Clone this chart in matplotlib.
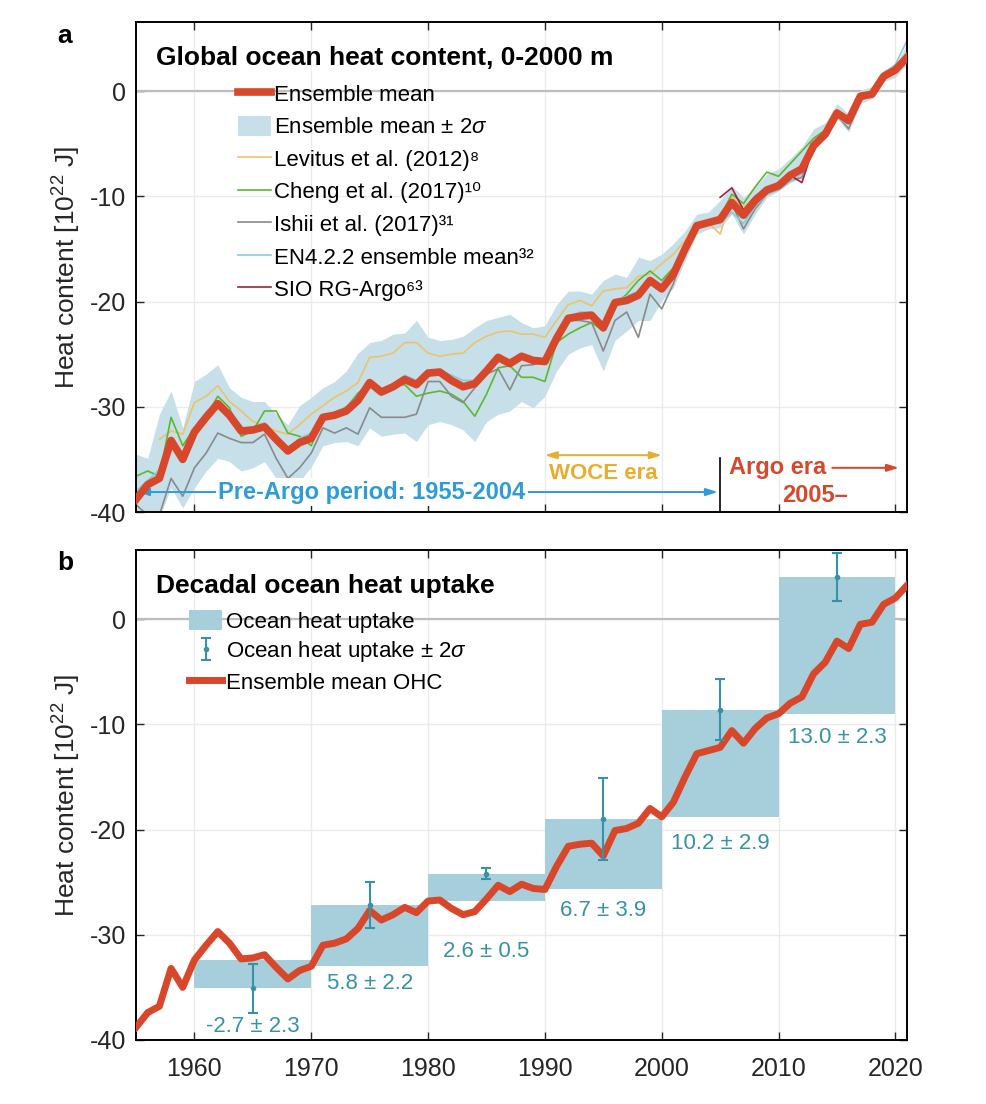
import matplotlib
matplotlib.use('Agg')
import matplotlib.pyplot as plt
import numpy as np

plt.rcParams['font.family'] = ['Liberation Sans', 'DejaVu Sans']
plt.rcParams['axes.unicode_minus'] = False
plt.rcParams['mathtext.fontset'] = 'custom'
plt.rcParams['mathtext.rm'] = 'Liberation Sans'
plt.rcParams['mathtext.it'] = 'Liberation Sans:italic'
plt.rcParams['mathtext.bf'] = 'Liberation Sans:bold'

# DATA (10^22 J)
years = np.arange(1955, 2022)
ohc_mean = [-38.8, -37.4, -36.8, -33.2, -35.0, -32.4, -31.0, -29.7, -30.8, -32.3,
            -32.2, -31.9, -33.1, -34.2, -33.4, -33.0, -31.0, -30.8, -30.4, -29.4,
            -27.7, -28.6, -28.1, -27.4, -27.9, -26.8, -26.7, -27.5, -28.1, -27.8,
            -26.6, -25.3, -25.9, -25.2, -25.6, -25.7, -23.5, -21.6, -21.4, -21.3,
            -22.5, -20.1, -19.9, -19.4, -18.0, -18.8, -17.4, -15.0, -12.8, -12.5,
            -12.2, -10.6, -11.8, -10.4, -9.4, -9.0, -8.0, -7.4, -5.2, -4.1,
            -2.1, -2.8, -0.5, -0.3, 1.4, 2.0, 3.2]
band_hi = [-34.5, -34.9, -30.7, -28.5, -32.0, -27.6, -26.9, -26.0, -28.2, -29.1,
           -29.5, -29.5, -30.7, -31.7, -29.9, -29.1, -28.2, -27.6, -26.6, -24.9,
           -23.9, -23.7, -23.1, -23.0, -21.8, -23.4, -23.7, -23.6, -23.3, -22.5,
           -21.8, -21.5, -21.2, -22.0, -22.5, -22.3, -20.3, -19.0, -19.0, -19.3,
           -18.0, -17.4, -17.7, -15.8, -16.1, -15.5, -14.5, -13.3, -11.7, -11.5,
           -10.4, -9.0, -10.1, -9.1, -7.9, -7.4, -6.4, -5.3, -3.6, -3.0,
           -1.2, -2.2, 0.1, 0.4, 2.0, 2.4, 4.5]
band_lo = [-41.5, -42.0, -40.5, -37.7, -39.6, -37.7, -36.1, -34.9, -35.2, -36.1,
           -35.8, -35.2, -36.8, -38.0, -37.1, -35.7, -33.7, -33.4, -33.3, -33.7,
           -32.0, -32.8, -32.6, -32.5, -33.3, -31.7, -31.4, -31.7, -32.2, -33.3,
           -31.4, -30.7, -30.4, -29.5, -30.1, -29.0, -26.6, -25.0, -24.4, -24.1,
           -26.6, -23.7, -22.8, -21.8, -21.8, -19.9, -18.7, -16.1, -13.6, -13.1,
           -13.0, -11.7, -13.6, -11.7, -10.1, -9.5, -8.7, -8.3, -5.3, -4.2,
           -2.6, -3.9, -1.2, -0.7, 0.9, 1.3, 2.6]

levitus_years = np.arange(1957, 2022)
levitus = [-33.1, -32.3, -32.6, -29.6, -29.0, -28.0, -29.5, -30.4,
           -31.4, -31.8, -32.3, -32.6, -31.7, -30.7, -29.9, -29.1, -28.5, -27.7,
           -25.3, -25.2, -24.9, -23.9, -23.9, -24.9, -25.2, -25.0, -24.9, -23.9,
           -23.3, -22.9, -22.8, -23.1, -23.1, -23.4, -21.8, -20.3, -19.9, -20.4,
           -19.0, -18.8, -18.7, -17.6, -17.4, -16.4, -15.5, -14.2, -13.0, -12.5,
           -13.6, -10.1, -11.0, -10.1, -9.3, -8.8, -7.8, -7.0, -5.0, -4.3,
           -2.2, -2.6, -0.6, -0.2, 1.3, 1.9, 3.0]
cheng = [-36.6, -36.1, -36.6, -31.0, -33.7, -32.0, -30.9, -29.0, -30.1, -32.8,
         -32.3, -30.4, -30.4, -32.5, -32.8, -33.7, -30.9, -30.9, -30.1, -28.7,
         -27.9, -28.7, -28.0, -27.9, -29.0, -28.7, -28.5, -28.8, -29.5, -30.9,
         -28.8, -26.3, -26.1, -27.2, -27.2, -27.6, -23.9, -23.1, -22.5, -22.0,
         -22.8, -20.3, -19.3, -18.0, -17.1, -18.0, -16.8, -14.5, -12.8, -12.3,
         -12.0, -9.8, -10.7, -9.1, -7.7, -8.1, -6.9, -5.7, -4.5, -3.7,
         -1.8, -2.8, -0.4, -0.1, 1.5, 2.1, 3.6]
ishii = [-39.3, -40.3, -40.3, -36.8, -38.5, -35.8, -34.4, -32.5, -33.0, -33.4,
         -33.4, -32.6, -34.9, -36.8, -35.8, -34.4, -32.0, -32.5, -32.0, -32.6,
         -30.1, -31.0, -31.0, -31.0, -30.7, -27.6, -27.6, -29.0, -29.6, -28.2,
         -26.9, -26.4, -28.4, -26.1, -26.0, -25.7, -23.1, -21.8, -21.8, -22.0,
         -24.7, -21.8, -21.0, -23.4, -19.3, -20.7, -18.3, -14.9, -13.1, -12.6,
         -12.3, -10.7, -13.1, -11.2, -9.8, -9.3, -8.5, -8.2, -5.0, -4.1,
         -2.3, -3.6, -0.9, -0.3, 1.2, 1.7, 3.1]
en4 = [-38.0, -37.0, -36.0, -33.5, -34.5, -32.0, -30.5, -29.5, -30.5, -32.0,
       -32.0, -31.5, -33.0, -34.0, -33.0, -32.5, -31.0, -30.5, -30.0, -29.0,
       -27.5, -28.5, -28.0, -27.0, -27.5, -26.5, -26.5, -27.0, -27.5, -27.5,
       -26.5, -25.5, -25.5, -25.0, -25.5, -25.5, -23.0, -21.5, -21.0, -21.0,
       -22.0, -20.0, -19.5, -19.0, -18.0, -18.5, -17.0, -15.0, -12.5, -12.5,
       -12.6, -11.5, -12.6, -11.0, -9.8, -9.4, -8.6, -7.8, -5.4, -4.4,
       -2.5, -3.2, -0.6, -0.2, 1.7, 2.5, 4.8]
sio_years = np.arange(2005, 2022)
sio = [-10.1, -9.2, -11.3, -10.0, -9.3, -9.0, -8.0, -8.7, -5.3, -4.0,
       -2.0, -2.9, -0.5, -0.2, 1.4, 2.0, 3.3]

decades = [1960, 1970, 1980, 1990, 2000, 2010]
uptake = [-2.7, 5.8, 2.6, 6.7, 10.2, 13.0]
uptake_err = [2.3, 2.2, 0.5, 3.9, 2.9, 2.3]
label_y = [-38.7, -34.6, -31.6, -27.7, -21.3, -11.3]

red = '#d9472b'
box_col = '#a7cedb'
teal = '#3592a8'

fig = plt.figure(figsize=(9.87, 11.04), dpi=100)
ax1 = fig.add_axes([0.1378, 0.5362, 0.7812, 0.4439])
ax2 = fig.add_axes([0.1378, 0.0580, 0.7812, 0.4438])


def style(ax):
    ax.set_xlim(1955, 2021)
    ax.set_ylim(-40, 6.56)
    ax.set_xticks(range(1960, 2021, 10))
    ax.set_yticks([-40, -30, -20, -10, 0])
    ax.grid(True, color='#ebebeb', lw=1)
    ax.set_axisbelow(True)
    ax.axhline(0, color='#bdbdbd', lw=1.6, zorder=0.6)
    ax.tick_params(direction='in', length=6, width=1, top=True, right=True,
                   labelsize=18, colors='#262626', pad=7)
    ax.tick_params(axis='x', pad=12)
    for s in ax.spines.values():
        s.set_linewidth(1.4)
    ax.set_ylabel('Heat content [10$^{22}$ J]', fontsize=19, color='#262626')
    ax.yaxis.set_label_coords(-0.069, 0.5)


style(ax1)
style(ax2)
ax1.tick_params(labelbottom=False)

# PANEL A
band = ax1.fill_between(years, band_lo, band_hi, color='#c6dfe8', lw=0)
l_lev, = ax1.plot(levitus_years, levitus, color='#ecc46a', lw=1.2)
l_che, = ax1.plot(years, cheng, color='#5cb82e', lw=1.2)
l_ish, = ax1.plot(years, ishii, color='#8a8a8a', lw=1.2)
l_en4, = ax1.plot(years, en4, color='#86cbdc', lw=1.2)
l_sio, = ax1.plot(sio_years, sio, color='#a3213f', lw=1.2)
l_mean, = ax1.plot(years, ohc_mean, color=red, lw=5.5, zorder=5)

ax1.legend([l_mean, band, l_lev, l_che, l_ish, l_en4, l_sio],
           ['Ensemble mean', 'Ensemble mean ± 2$\\sigma$',
            'Levitus et al. (2012)\u2078', 'Cheng et al. (2017)\u00b9\u2070',
            'Ishii et al. (2017)\u00b3\u00b9', 'EN4.2.2 ensemble mean\u00b3\u00b2',
            'SIO RG-Argo\u2076\u00b3'],
           loc='upper left', bbox_to_anchor=(0.132, 0.875), frameon=False,
           fontsize=16, handlelength=1.5, handletextpad=0.15, labelspacing=0.45,
           borderpad=0, borderaxespad=0, handleheight=1.0)
ax1.text(0.026, 0.9265, 'Global ocean heat content, 0-2000 m', transform=ax1.transAxes,
         fontsize=19, weight='bold', va='center', ha='left')

# era annotations
blue = '#2f9bd7'
orange = '#e7ad2e'
ax1.annotate('', xy=(1955.1, -38.1), xytext=(2004.8, -38.1),
             arrowprops=dict(arrowstyle='<|-|>,head_length=0.7,head_width=0.22',
                             color=blue, lw=1.4, shrinkA=0, shrinkB=0))
ax1.text(1975.2, -38.1, 'Pre-Argo period: 1955-2004', color=blue, fontsize=17,
         weight='bold', ha='center', va='center',
         bbox=dict(facecolor='white', edgecolor='none', pad=1.5))
ax1.annotate('', xy=(1990, -34.6), xytext=(2000, -34.6),
             arrowprops=dict(arrowstyle='<|-|>,head_length=0.7,head_width=0.22',
                             color=orange, lw=1.4, shrinkA=0, shrinkB=0))
ax1.text(1995, -36.3, 'WOCE era', color=orange, fontsize=16, weight='bold',
         ha='center', va='center')
ax1.plot([2005, 2005], [-34.9, -40], color='k', lw=1.2)
ax1.text(2009.9, -35.8, 'Argo era', color=red, fontsize=17, weight='bold',
         ha='center', va='center')
ax1.annotate('', xy=(2020.3, -35.8), xytext=(2014.6, -35.8),
             arrowprops=dict(arrowstyle='-|>,head_length=0.7,head_width=0.22',
                             color=red, lw=1.4, shrinkA=0, shrinkB=0))
ax1.text(2013.1, -38.4, '2005\u2013', color=red, fontsize=17, weight='bold',
         ha='center', va='center')

# PANEL B
base = [ohc_mean[list(years).index(d)] for d in decades]
tops = [b + u for b, u in zip(base, uptake)]
mids = [d + 5 for d in decades]
bars = ax2.bar(decades, uptake, bottom=base, width=10, align='edge', color=box_col,
               lw=0, zorder=1)
l_b, = ax2.plot(years, ohc_mean, color=red, lw=5, zorder=3)
eb = ax2.errorbar(mids, tops, yerr=uptake_err, fmt='o', ms=3, color=teal,
                  ecolor=teal, elinewidth=1.5, capsize=3.5, capthick=1.5, zorder=4)
for m, y, u, e in zip(mids, label_y, uptake, uptake_err):
    ax2.text(m, y, '{:.1f} ± {:.1f}'.format(u, e), color=teal, fontsize=16,
             ha='center', va='center')

ax2.legend([bars, eb, l_b],
           ['Ocean heat uptake', 'Ocean heat uptake ± 2$\\sigma$', 'Ensemble mean OHC'],
           loc='upper left', bbox_to_anchor=(0.0687, 0.877), frameon=False,
           fontsize=16, handlelength=1.5, handletextpad=0.15, labelspacing=0.3,
           borderpad=0, borderaxespad=0, handleheight=1.0)
ax2.text(0.026, 0.9265, 'Decadal ocean heat uptake', transform=ax2.transAxes,
         fontsize=19, weight='bold', va='center', ha='left')

fig.text(65 / 987, 1 - 36 / 1104, 'a', fontsize=19, weight='bold', ha='center', va='center')
fig.text(65 / 987, 1 - 563 / 1104, 'b', fontsize=19, weight='bold', ha='center', va='center')

fig.savefig('out.png', dpi=100)
